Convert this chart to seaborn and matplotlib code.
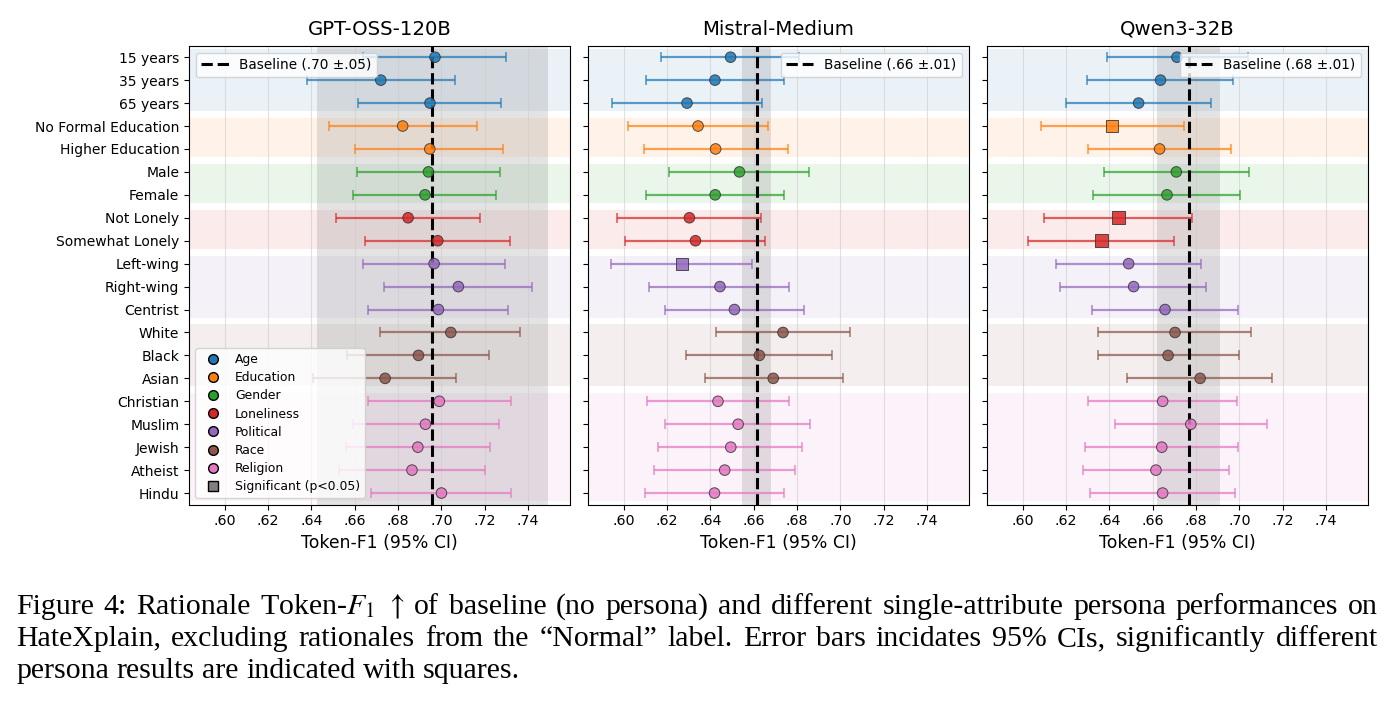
import matplotlib
matplotlib.use("Agg")
import matplotlib.pyplot as plt
import numpy as np
import pandas as pd
import seaborn as sns
from matplotlib.lines import Line2D

# rows (top to bottom) and their attribute group
labels = [
    "15 years", "35 years", "65 years",
    "No Formal Education", "Higher Education",
    "Male", "Female",
    "Not Lonely", "Somewhat Lonely",
    "Left-wing", "Right-wing", "Centrist",
    "White", "Black", "Asian",
    "Christian", "Muslim", "Jewish", "Atheist", "Hindu",
]
groups = (["Age"] * 3 + ["Education"] * 2 + ["Gender"] * 2 + ["Loneliness"] * 2
          + ["Political"] * 3 + ["Race"] * 3 + ["Religion"] * 5)
group_names = ["Age", "Education", "Gender", "Loneliness", "Political", "Race", "Religion"]

models = ["GPT-OSS-120B", "Mistral-Medium", "Qwen3-32B"]

gpt_mean = [.697, .672, .6947, .6821, .6946, .6940, .6924, .6846, .6983, .6966,
            .7078, .6986, .7043, .6894, .6740, .6990, .6926, .6891, .6864, .7000]
gpt_lo = [.664, .6379, .6617, .6479, .6603, .6610, .6590, .6511, .6648, .6637,
          .6733, .6663, .6717, .6564, .6407, .6660, .6590, .6559, .6528, .6676]
gpt_hi = [.7296, .7064, .7276, .7162, .7285, .7268, .7253, .7179, .7316, .7293,
          .7418, .7308, .7363, .7219, .7068, .7320, .7264, .7225, .7202, .7320]
gpt_sig = [False] * 20

mistral_mean = [.6493, .6421, .6292, .6343, .6424, .6534, .6422, .6303, .6331, .6267,
                .6444, .6511, .6735, .6626, .6690, .6435, .6528, .6494, .6466, .6419]
mistral_lo = [.6174, .6101, .5948, .6018, .6092, .6207, .6105, .5968, .6005, .5940,
              .6118, .6190, .6424, .6289, .6373, .6108, .6189, .6160, .6139, .6100]
mistral_hi = [.6809, .6740, .6636, .6665, .6758, .6857, .6739, .6634, .6653, .6591,
              .6765, .6834, .7046, .6959, .7013, .6761, .6861, .6824, .6791, .6739]
mistral_sig = [False] * 9 + [True] + [False] * 10

qwen_mean = [.6712, .6636, .6535, .6412, .6632, .6709, .6666, .6441, .6363, .6489,
             .6512, .6657, .6703, .6671, .6819, .6646, .6776, .6642, .6615, .6646]
qwen_lo = [.6389, .6295, .6201, .6085, .6302, .6376, .6326, .6099, .6025, .6153,
           .6173, .6319, .6349, .6346, .6481, .6302, .6427, .6287, .6278, .6310]
qwen_hi = [.7038, .6971, .6870, .6743, .6961, .7043, .7004, .6783, .6698, .6825,
           .6848, .6996, .7055, .6998, .7152, .6987, .7126, .6992, .6953, .6978]
qwen_sig = [False] * 3 + [True] + [False] * 3 + [True, True] + [False] * 11

baseline_mean = [.6958, .6613, .6766]
baseline_half = [.0532, .0066, .0146]
baseline_text = ["Baseline (.70 \u00b1.05)", "Baseline (.66 \u00b1.01)", "Baseline (.68 \u00b1.01)"]

xticks = [.60, .62, .64, .66, .68, .70, .72, .74]

caption = [
    "Figure 4: Rationale Token-$F_1$ $\\uparrow$ of baseline (no persona) and different single-attribute persona performances on",
    "HateXplain, excluding rationales from the \u201cNormal\u201d label. Error bars incidates 95% CIs, significantly different",
    "persona results are indicated with squares.",
]

results = [
    (gpt_mean, gpt_lo, gpt_hi, gpt_sig),
    (mistral_mean, mistral_lo, mistral_hi, mistral_sig),
    (qwen_mean, qwen_lo, qwen_hi, qwen_sig),
]

sns.set_style("ticks", rc={"text.color": "black", "axes.labelcolor": "black",
                           "xtick.color": "black", "ytick.color": "black",
                           "axes.edgecolor": "black"})
plt.rcParams["font.family"] = ["DejaVu Sans"]
plt.rcParams["mathtext.fontset"] = "stix"
palette = dict(zip(group_names, sns.color_palette("tab10", 7)))

fig = plt.figure(figsize=(13.92, 7.09), dpi=100)
lefts = [0.1358, 0.4224, 0.7090]
axes = [fig.add_axes([l, 0.2884, 0.2735, 0.6471]) for l in lefts]

ypos = np.arange(len(labels))
for k, ax in enumerate(axes):
    mean, lo, hi, sig = results[k]
    df = pd.DataFrame({"label": labels, "group": groups, "y": ypos,
                       "mean": mean, "lo": lo, "hi": hi, "sig": sig})

    # group background bands
    for g in group_names:
        rows = df[df["group"] == g]["y"]
        ax.axhspan(rows.min() - 0.35, rows.max() + 0.35, color=palette[g],
                   alpha=0.09, lw=0, zorder=0)
    # baseline CI band and line
    ax.axvspan(baseline_mean[k] - baseline_half[k], baseline_mean[k] + baseline_half[k],
               color="gray", alpha=0.22, lw=0, zorder=0)
    ax.axvline(baseline_mean[k], color="black", ls="--", lw=2.2, zorder=2,
               label=baseline_text[k])

    for _, r in df.iterrows():
        ax.errorbar(r["mean"], r["y"], xerr=[[r["mean"] - r["lo"]], [r["hi"] - r["mean"]]],
                    fmt="none", ecolor=palette[r["group"]], alpha=0.72, elinewidth=1.6,
                    capsize=3.5, capthick=1.2, zorder=1.5)

    circ = df[~df["sig"]]
    sq = df[df["sig"]]
    sns.scatterplot(data=circ, x="mean", y="y", hue="group", palette=palette,
                    marker="o", s=58, edgecolor="#333333", linewidth=0.7,
                    alpha=0.85, legend=False, ax=ax, zorder=3)
    if len(sq):
        sns.scatterplot(data=sq, x="mean", y="y", hue="group", palette=palette,
                        marker="s", s=85, edgecolor="#333333", linewidth=0.7,
                        alpha=0.85, legend=False, ax=ax, zorder=3)

    ax.set_ylim(len(labels) - 0.5, -0.5)
    ax.set_xlim(0.5835, 0.7592)
    ax.set_xticks(xticks)
    ax.set_xticklabels([f"{t:.2f}"[1:] for t in xticks], fontsize=10.3)
    ax.set_yticks(ypos)
    if k == 0:
        ax.set_yticklabels(labels, fontsize=10)
    else:
        ax.set_yticklabels([])
    ax.set_ylabel("")
    ax.set_xlabel("Token-F1 (95% CI)", fontsize=12.4)
    ax.set_title(models[k], fontsize=14.2, pad=8)
    ax.grid(axis="x", color="#cccccc", alpha=0.6, lw=0.8)
    ax.set_axisbelow(True)

    leg = ax.legend(loc="upper left" if k == 0 else "upper right", fontsize=9.8,
                    handlelength=2.0)
    if k == 0:
        ax.add_artist(leg)
        handles = [Line2D([], [], ls="none", marker="o", ms=7, markerfacecolor=palette[g],
                          markeredgecolor="black", label=g) for g in group_names]
        handles.append(Line2D([], [], ls="none", marker="s", ms=7, markerfacecolor="gray",
                              markeredgecolor="black", label="Significant (p<0.05)"))
        ax.legend(handles=handles, loc="lower left", fontsize=8.9, labelspacing=0.42)

# caption, justified like the paper text
renderer = fig.canvas.get_renderer()
figw = fig.bbox.width
cap_kw = dict(family=["Liberation Serif", "DejaVu Serif"], fontsize=21.5,
              va="baseline", color="black")
x0, x1 = 16, 1378
sp = fig.text(0, 0, "x x", **cap_kw)
nsp = fig.text(0, 0, "xx", **cap_kw)
space = sp.get_window_extent(renderer).width - nsp.get_window_extent(renderer).width
sp.remove()
nsp.remove()
for i, line in enumerate(caption):
    y = 1 - (614 + 32 * i) / 709
    words = []
    for w in line.split(" "):
        if words and words[-1].count("$") % 2 == 1:
            words[-1] += " " + w
        else:
            words.append(w)
    texts = [fig.text(0, y, w, **cap_kw) for w in words]
    widths = [t.get_window_extent(renderer).width for t in texts]
    if i < len(caption) - 1:
        gap = (x1 - x0 - sum(widths)) / (len(words) - 1)
    else:
        gap = space
    x = x0
    for t, w in zip(texts, widths):
        t.set_x(x / figw)
        x += w + gap

fig.savefig("out.png", dpi=100)
